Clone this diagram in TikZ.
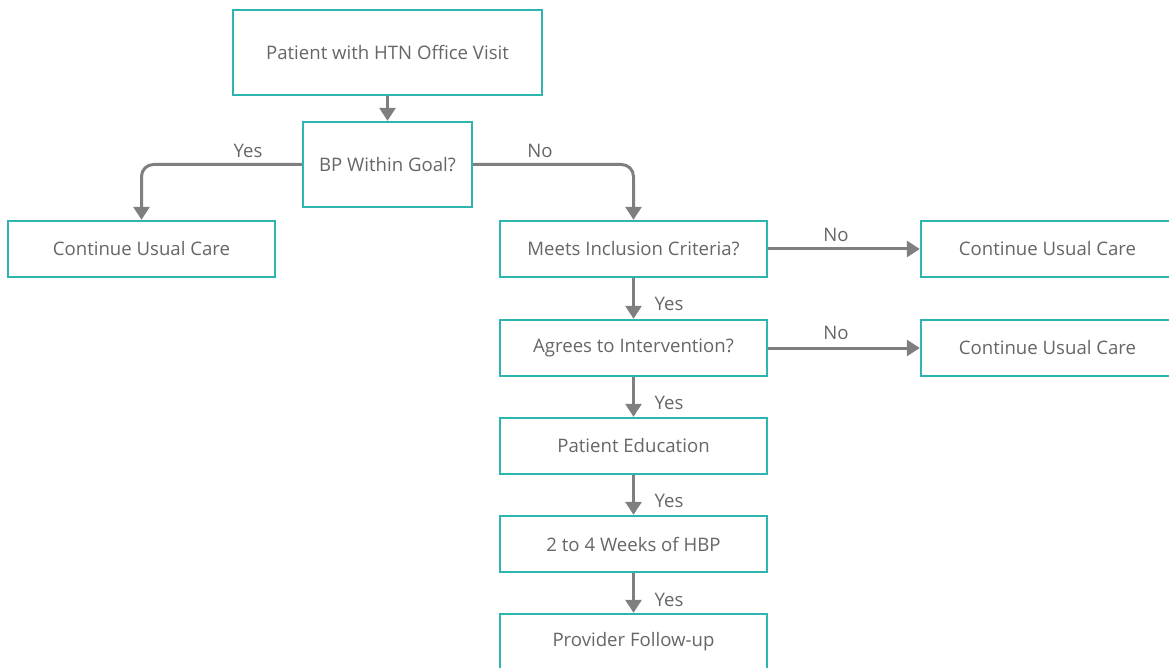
\documentclass[tikz,border=0pt]{standalone}
\usepackage{fontspec}
\setmainfont{Open Sans}
\usetikzlibrary{arrows.meta}
\definecolor{teal}{HTML}{2EB5B0}
\definecolor{txt}{HTML}{666666}
\definecolor{line}{HTML}{7F7F7F}
\tikzset{
  box/.style={draw=teal, line width=2.4pt, fill=white, text=txt, minimum width=267pt, minimum height=56pt, inner sep=0pt, font=\fontsize{18.6}{22}\selectfont},
  flow/.style={draw=line, line width=3pt, -{Triangle[width=16pt,length=13pt]}, rounded corners=12pt},
  lbl/.style={text=txt, font=\fontsize{18.6}{22}\selectfont, inner sep=0pt}
}
\begin{document}
\begin{tikzpicture}[x=1pt,y=-1pt]
\useasboundingbox (0,0) rectangle (1169,668);
\node[box, minimum width=309pt, minimum height=85pt] (visit) at (387.5,52.5) {Patient with HTN Office Visit};
\node[box, minimum width=169pt, minimum height=85pt] (goal) at (387.5,164.5) {BP Within Goal?};
\node[box] (usual) at (141.5,249) {Continue Usual Care};
\node[box] (meets) at (633.5,249) {Meets Inclusion Criteria?};
\node[box, minimum width=253pt] (usualA) at (1047.5,249) {Continue Usual Care};
\node[box] (agrees) at (633.5,348) {Agrees to Intervention?};
\node[box, minimum width=253pt] (usualB) at (1047.5,348) {Continue Usual Care};
\node[box] (educ) at (633.5,446) {Patient Education};
\node[box] (hbp) at (633.5,544) {2 to 4 Weeks of HBP};
\node[box] (follow) at (633.5,642) {Provider Follow-up};
% connectors
\draw[flow] (visit) -- (goal);
\draw[flow] (goal.west) -| (usual.north);
\draw[flow] (goal.east) -| (meets.north);
\draw[flow] (meets) -- (usualA);
\draw[flow] (agrees) -- (usualB);
\draw[flow] (meets) -- (agrees);
\draw[flow] (agrees) -- (educ);
\draw[flow] (educ) -- (hbp);
\draw[flow] (hbp) -- (follow);
% labels
\node[lbl] (y1) at (248,151) {Yes};
\node[lbl] (n1) at (540,151) {No};
\node[lbl] (n2) at (836,235) {No};
\node[lbl] (n3) at (836,333) {No};
\foreach \yy/\nm in {304/ya,403/yb,501/yc,600/yd}
  \node[lbl] (\nm) at (669,\yy) {Yes};
\end{tikzpicture}
\end{document}
